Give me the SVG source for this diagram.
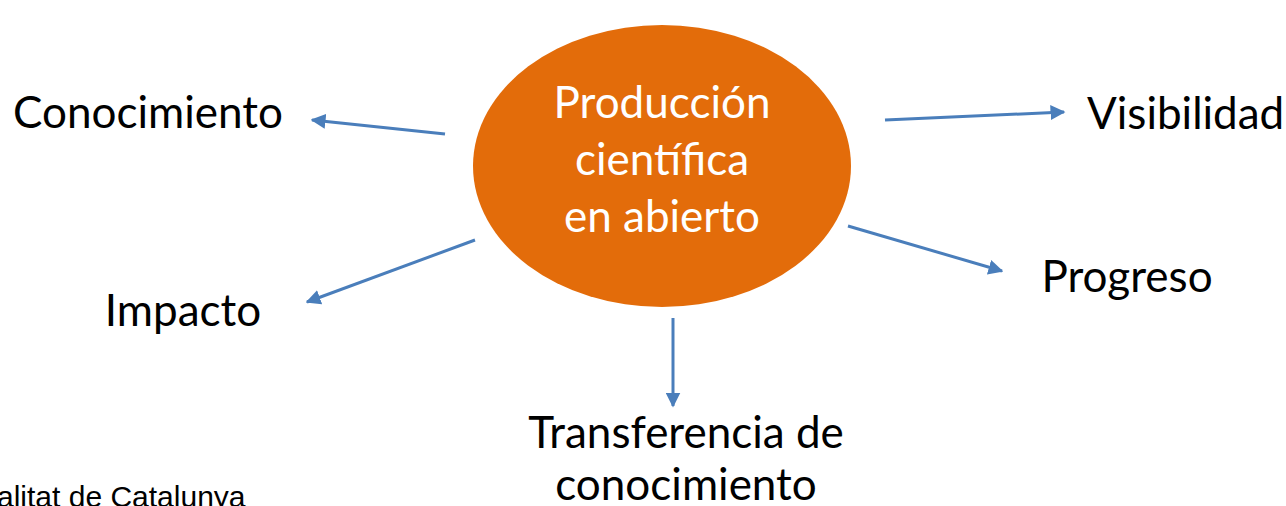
<svg xmlns="http://www.w3.org/2000/svg" width="1286" height="506" viewBox="0 0 1286 506">
<defs>
<marker id="ah" viewBox="0 0 10 10" refX="9" refY="5" markerWidth="5" markerHeight="5" orient="auto" markerUnits="strokeWidth">
<path d="M0,0 L10,5 L0,10 z" fill="#4a7ebb"/>
</marker>
<style>
.lbl{font-family:Lato,"Open Sans",sans-serif;font-size:44px;fill:#000}
.ctr{font-family:Lato,"Open Sans",sans-serif;font-size:44px;fill:#fff}
.conn{stroke:#4a7ebb;stroke-width:3;fill:none;marker-end:url(#ah)}
</style>
</defs>
<rect width="1286" height="506" fill="#fff"/>
<g id="connectors">
<line class="conn" x1="445" y1="134" x2="312" y2="120"/>
<line class="conn" x1="885" y1="120" x2="1064" y2="112"/>
<line class="conn" x1="475" y1="240" x2="307" y2="302"/>
<line class="conn" x1="848" y1="226" x2="1002" y2="271"/>
<line class="conn" x1="673" y1="318" x2="673" y2="406"/>
</g>
<g id="center">
<ellipse cx="662" cy="166" rx="189" ry="141" fill="#e36c0a"/>
<text class="ctr" x="662" y="118" text-anchor="middle">Producción</text>
<text class="ctr" x="662" y="175" text-anchor="middle">científica</text>
<text class="ctr" x="662" y="232" text-anchor="middle">en abierto</text>
</g>
<g id="conocimiento"><text class="lbl" x="148" y="128" text-anchor="middle">Conocimiento</text></g>
<g id="visibilidad"><text class="lbl" x="1087" y="129">Visibilidad</text></g>
<g id="impacto"><text class="lbl" x="183" y="326" text-anchor="middle">Impacto</text></g>
<g id="progreso"><text class="lbl" x="1127" y="292" text-anchor="middle">Progreso</text></g>
<g id="transferencia">
<text class="lbl" x="686" y="448" text-anchor="middle">Transferencia de</text>
<text class="lbl" x="686" y="500" text-anchor="middle">conocimiento</text>
</g>
<g id="footer"><text x="-3" y="507" font-family="Liberation Sans, Arial, sans-serif" font-size="30" fill="#000">alitat de Catalunya</text></g>
</svg>
